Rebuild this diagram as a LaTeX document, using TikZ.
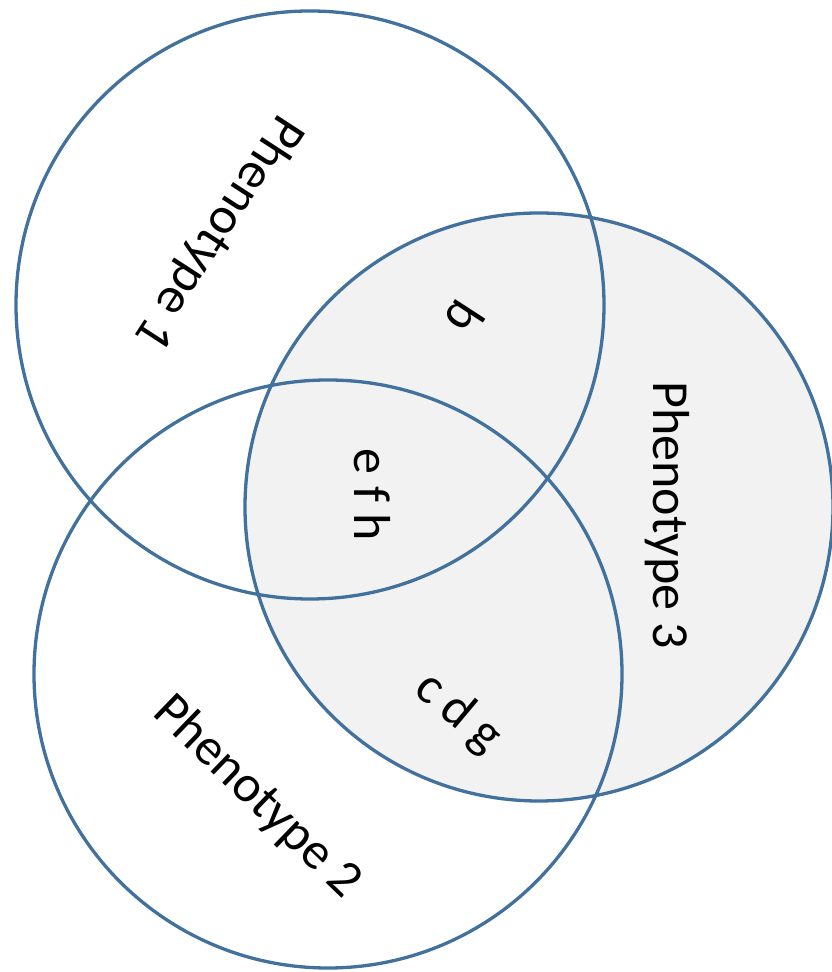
\documentclass[tikz,border=0pt]{standalone}
\usepackage{fontspec}
\setmainfont{Carlito}
\definecolor{ringblue}{RGB}{65,113,156}
\definecolor{ringfill}{RGB}{242,242,242}
\begin{document}
\begin{tikzpicture}[x=1pt,y=1pt,
  ring/.style={circle,inner sep=0pt,minimum size=588pt,draw=ringblue,line width=3.3pt},
  lbl/.style={inner sep=0pt,font=\fontsize{52}{60}\selectfont}]
\useasboundingbox (0,0) rectangle (832,972);
\fill[white] (0,0) rectangle (832,972);
\node[circle,inner sep=0pt,minimum size=588pt,fill=ringfill] (c3fill) at (539,465) {};
\node[ring] (c1) at (310,667) {};
\node[ring] (c2) at (328,298) {};
\node[ring] (c3) at (539,465) {};
\node[lbl,rotate=-123] (p1) at (218,740) {Phenotype 1};
\node[lbl,rotate=-123] (lb) at (465,654) {b};
\node[lbl,rotate=-90] (lefh) at (372,477) {e f h};
\node[lbl,rotate=-90] (p3) at (667,457) {Phenotype 3};
\node[lbl,rotate=-40] (lcdg) at (458,259) {c d g};
\node[lbl,rotate=-44] (p2) at (257,175) {Phenotype 2};
\end{tikzpicture}
\end{document}
